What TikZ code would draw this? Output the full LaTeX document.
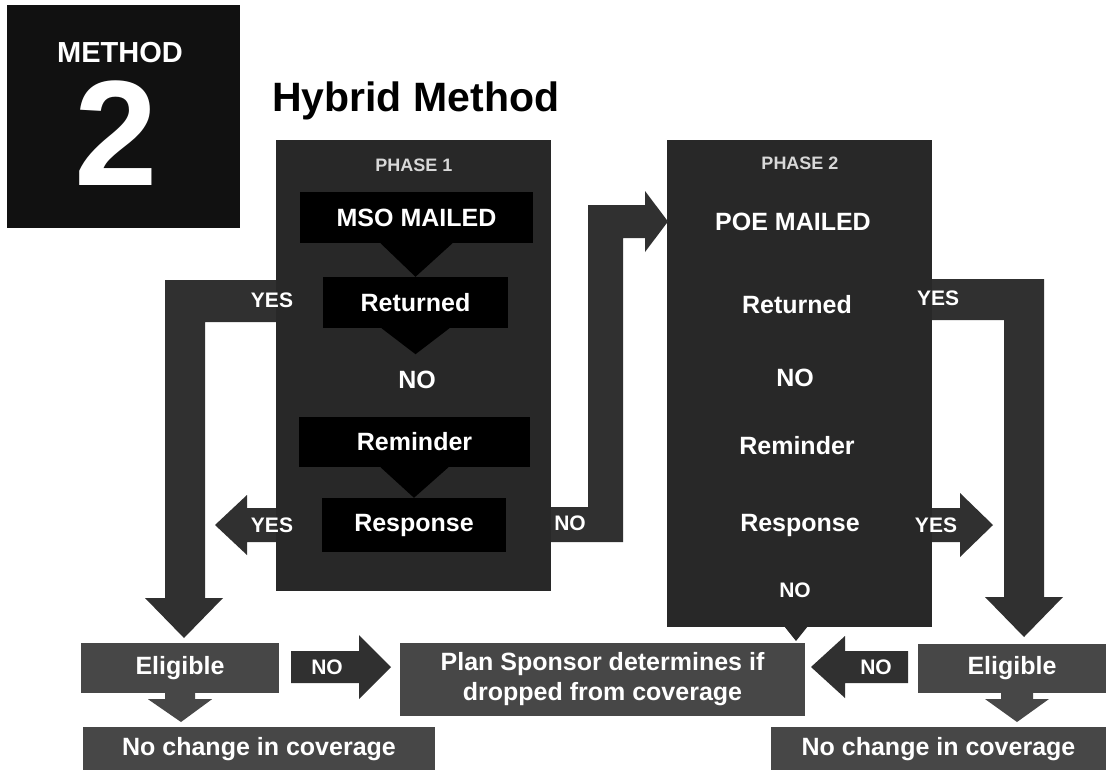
\documentclass[tikz,border=0pt]{standalone}
\usepackage{fontspec}
\setmainfont{Liberation Sans}
\usetikzlibrary{calc}
\newcommand{\myfs}[2]{\fontsize{#1}{#2}\selectfont}
\definecolor{phasegray}{HTML}{282828}
\definecolor{arrowgray}{HTML}{303030}
\definecolor{lowgray}{HTML}{474747}
\definecolor{methodblack}{HTML}{111111}
\definecolor{phasetext}{HTML}{D8D8D8}
\begin{document}
\begin{tikzpicture}[x=1pt,y=-1pt,
  txt/.style={font=\bfseries\myfs{25}{28}, text=white, inner sep=0pt},
  yn/.style={font=\bfseries\myfs{21}{24}, text=white, inner sep=0pt},
  phasebox/.style={fill=phasegray, draw=none, inner sep=0pt},
  phaselbl/.style={font=\bfseries\myfs{18}{20}, text=phasetext, inner sep=0pt},
  innerbox/.style={fill=black, text=white, font=\bfseries\myfs{25}{28}, inner sep=0pt},
  lowbox/.style={fill=lowgray, text=white, font=\bfseries\myfs{25}{30}, inner sep=0pt, align=center},
  arr/.style={fill=arrowgray, draw=none},
  lowarr/.style={fill=lowgray, draw=none},
  blk/.style={fill=black, draw=none}]

\useasboundingbox (0,0) rectangle (1106,769);
\fill[white] (0,0) rectangle (1106,769);

% Method badge and title
\node[fill=methodblack, minimum width=233, minimum height=223, inner sep=0pt] (mbox) at (123.5,116.5) {};
\node[font=\bfseries\myfs{29}{32}, text=white, inner sep=0pt] (mlabel) at (120,53) {METHOD};
\node[font=\bfseries\myfs{150}{150}, text=white, inner sep=0pt] (mnum) at (116,133.5) {2};
\node[font=\bfseries\myfs{41}{44}, anchor=base west, inner sep=0pt] (title) at (272,111) {Hybrid Method};

% Phase boxes
\node[phasebox, minimum width=275, minimum height=451] (p1) at (413.5,365.5) {};
\node[phasebox, minimum width=265, minimum height=487] (p2) at (799.5,383.5) {};

% left loop: Returned YES -> Eligible
\coordinate (l1) at (165,280);
\coordinate (l2) at (205,322);
\coordinate (tipL) at (184,638);
\fill[arr] (p1.west |- l1) -- (l1) -- (165,598) -- (145,598) -- (tipL) -- (223,598) -- (205,598) -- (l2) -- (p1.west |- l2) -- cycle;
% left YES arrow from Response
\coordinate (yl) at (215,525);
\fill[arr] (p1.west |- 0,508) -- (247,508) -- (247,495) -- (yl) -- (247,555) -- (247,542) -- (p1.west |- 0,542) -- cycle;
% NO connector phase 1 -> phase 2
\coordinate (tipP2) at (668,221.5);
\fill[arr] (p1.east |- 0,507) -- (588,507) -- (588,205) -- (645,205) -- (645,191) -- (tipP2) -- (645,252) -- (645,238) -- (623,238) -- (623,542) -- (p1.east |- 0,542) -- cycle;
% right loop: Returned YES -> Eligible
\coordinate (tipR) at (1024,637);
\fill[arr] (p2.east |- 0,279) -- (1044,279) -- (1044,597) -- (1063,597) -- (tipR) -- (985,597) -- (1004,597) -- (1004,320) -- (p2.east |- 0,320) -- cycle;
% right YES arrow from Response
\coordinate (yr) at (993,525);
\fill[arr] (p2.east |- 0,508) -- (960,508) -- (960,493) -- (yr) -- (960,557) -- (960,542) -- (p2.east |- 0,542) -- cycle;
% small pointer below phase 2
\coordinate (tipP2b) at (796,641);
\fill[phasegray] (784,626) -- (808,626) -- (tipP2b) -- cycle;

% Inner boxes of phase 1
\node[innerbox, minimum width=233, minimum height=51] (mso) at (416.5,217.5) {MSO MAILED};
\node[innerbox, minimum width=185, minimum height=51] (ret) at (415.5,302.5) {Returned};
\node[txt] (no1) at (417,380) {NO};
\node[innerbox, minimum width=231, minimum height=50] (rem) at (414.5,442) {Reminder};
\node[innerbox, minimum width=184, minimum height=54] (resp) at (414,525) {Response};

% black pointers inside phase 1
\fill[blk] ($(mso.south)+(-36,0)$) -- (ret.north) -- ($(mso.south)+(36,0)$) -- cycle;
\coordinate (retTip) at ($(ret.south)+(0,26)$);
\fill[blk] ($(ret.south)+(-34,0)$) -- (retTip) -- ($(ret.south)+(34,0)$) -- cycle;
\fill[blk] ($(rem.south)+(-34,0)$) -- (resp.north) -- ($(rem.south)+(34,0)$) -- cycle;

% Phase labels
\node[phaselbl] (ph1) at (414,165) {PHASE 1};
\node[phaselbl] (ph2) at (800,163) {PHASE 2};

% Phase 2 texts
\node[txt] (poe) at (793,222) {POE MAILED};
\node[txt] (ret2) at (797,305) {Returned};
\node[txt] (no2) at (795,378) {NO};
\node[txt] (rem2) at (797,446) {Reminder};
\node[txt] (resp2) at (800,525) {Response};
\node[yn] (no3) at (795,590) {NO};

% YES / NO labels on connectors
\node[yn] (yes1) at (272,300) {YES};
\node[yn] (yes2) at (272,525) {YES};
\node[yn] (nop1) at (570,523) {NO};
\node[yn] (yes3) at (938,298) {YES};
\node[yn] (yes4) at (936,525) {YES};

% Bottom boxes
\node[lowbox, minimum width=198, minimum height=50] (eligL) at (180,668) {Eligible};
\node[lowbox, minimum width=405, minimum height=73] (plan) at (602.5,679.5) {Plan Sponsor determines if\\dropped from coverage};
\node[lowbox, minimum width=188, minimum height=49] (eligR) at (1012,668.5) {Eligible};
\node[lowbox, minimum width=352, minimum height=44] (noL) at (259,749) {No change in coverage};
\node[lowbox, minimum width=335, minimum height=44] (noR) at (938.5,749) {No change in coverage};

% NO arrows into plan sponsor
\coordinate (tipNL) at (391,667);
\fill[arr] (291,651) -- (359,651) -- (359,635) -- (tipNL) -- (359,699) -- (359,683) -- (291,683) -- cycle;
\coordinate (tipNR) at (811,667);
\fill[arr] (908,651) -- (845,651) -- (845,636) -- (tipNR) -- (845,698) -- (845,683) -- (908,683) -- cycle;
\node[yn] (noa) at (327,667) {NO};
\node[yn] (nob) at (876,667) {NO};

% small arrows under Eligible
\coordinate (tipEL) at (181,722);
\fill[lowarr] ($(eligL.south)+(-15,0)$) -- ($(eligL.south)+(-15,6)$) -- ($(eligL.south)+(-32,6)$) -- (tipEL) -- ($(eligL.south)+(32,6)$) -- ($(eligL.south)+(15,6)$) -- ($(eligL.south)+(15,0)$) -- cycle;
\coordinate (tipER) at (1017,722);
\fill[lowarr] (1001,693) -- (1001,699) -- (985,699) -- (tipER) -- (1049,699) -- (1033,699) -- (1033,693) -- cycle;
\end{tikzpicture}
\end{document}
